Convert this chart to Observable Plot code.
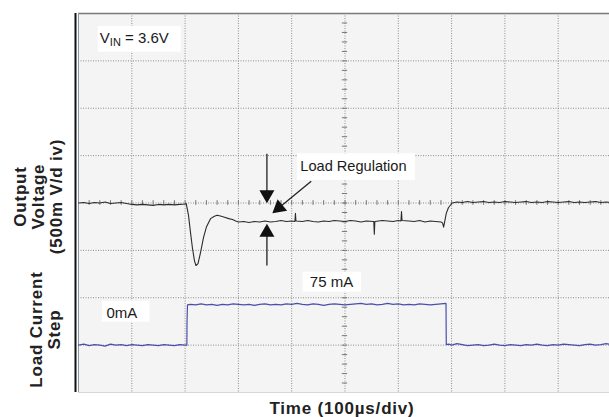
<!DOCTYPE html>
<html><head><meta charset="utf-8">
<script src="https://cdn.jsdelivr.net/npm/d3@7"></script>
<script src="https://cdn.jsdelivr.net/npm/@observablehq/plot@0.6"></script>
<style>
html,body{margin:0;padding:0;background:#fff;}
#chart{width:609px;height:417px;overflow:hidden;}
</style></head><body><div id="chart"></div>
<script>
// Time in divisions (100 µs/div), levels in screen divisions
const voltTime = [0,0.1,0.2,0.3,0.4,0.5,0.6,0.7,0.8,0.9,1.0,1.1,1.2,1.3,1.4,1.5,1.6,1.7,1.8,1.9,2.0,2.02,
  2.064,2.101,2.139,2.176,2.204,2.242,2.289,2.345,2.402,2.477,2.55,2.602,2.68,2.739,2.82,2.889,2.95,3.0,
  3.1,3.2,3.3,3.4,3.5,3.6,3.7,3.8,3.9,4.0,4.06,4.07,4.08,4.2,4.3,4.4,4.5,4.6,4.7,4.8,4.9,5.0,5.1,5.2,5.3,5.4,
  5.54,5.55,5.56,5.7,5.8,5.9,6.0,6.05,6.06,6.07,6.2,6.3,6.4,6.5,6.6,6.7,6.8,6.83,6.85,6.87,6.90,6.94,7.01,
  7.1,7.2,7.3,7.4,7.5,7.6,7.7,7.8,7.9,8.0,8.1,8.2,8.3,8.4,8.5,8.6,8.7,8.8,8.9,9.0,9.1,9.2,9.3,9.4,9.5,9.6,9.7,9.8,9.9,10.0];
const voltDiv = [4.00,4.01,3.99,4.01,4.00,4.02,3.99,4.00,4.01,3.99,3.97,3.96,3.97,3.96,3.95,3.97,3.96,3.97,3.96,3.97,3.98,3.99,
  3.74,3.38,3.04,2.78,2.68,2.72,2.95,3.27,3.50,3.67,3.72,3.74,3.72,3.70,3.67,3.65,3.62,3.60,
  3.61,3.59,3.61,3.60,3.62,3.60,3.61,3.63,3.61,3.62,3.61,3.78,3.62,3.61,3.63,3.61,3.60,3.62,3.61,3.63,3.62,3.61,3.63,3.62,3.60,3.62,
  3.61,3.34,3.61,3.63,3.62,3.61,3.63,3.62,3.82,3.63,3.62,3.61,3.63,3.60,3.62,3.61,3.60,3.58,3.49,3.60,3.78,3.90,4.00,
  4.02,4.01,4.03,4.01,4.02,4.03,4.01,4.02,4.01,4.03,4.02,4.01,4.02,4.03,4.01,4.02,4.01,4.03,4.02,4.01,4.02,4.03,4.01,4.02,4.01,4.02,4.03,4.01,4.02,4.01];

const currTime = [0,0.1,0.2,0.3,0.4,0.5,0.6,0.7,0.8,0.9,1.0,1.1,1.2,1.3,1.4,1.5,1.6,1.7,1.8,1.9,2.0,2.033,2.036,2.045,
  2.1,2.2,2.3,2.4,2.5,2.6,2.7,2.8,2.9,3.0,3.1,3.2,3.3,3.4,3.5,3.6,3.7,3.8,3.9,4.0,4.1,4.2,4.3,4.4,4.5,4.6,4.7,4.8,4.9,
  5.0,5.1,5.2,5.3,5.4,5.5,5.6,5.7,5.8,5.9,6.0,6.1,6.2,6.3,6.4,6.5,6.6,6.7,6.8,6.895,6.90,6.95,
  7.0,7.1,7.2,7.3,7.4,7.5,7.6,7.7,7.8,7.9,8.0,8.1,8.2,8.3,8.4,8.5,8.6,8.7,8.8,8.9,9.0,9.1,9.2,9.3,9.4,9.5,9.6,9.7,9.8,9.9,10.0];
const currDiv = [1.00,1.02,0.99,1.01,1.00,0.98,1.02,1.00,1.01,0.99,1.01,1.00,0.99,1.01,1.00,0.99,1.01,1.00,0.99,1.01,1.00,1.00,1.50,1.85,
  1.86,1.85,1.87,1.85,1.86,1.84,1.86,1.85,1.87,1.86,1.85,1.86,1.84,1.86,1.87,1.85,1.86,1.85,1.87,1.86,1.88,1.86,1.85,1.87,1.86,1.84,1.86,1.87,1.86,
  1.85,1.86,1.87,1.88,1.86,1.87,1.85,1.86,1.88,1.86,1.87,1.85,1.86,1.85,1.87,1.86,1.85,1.86,1.87,1.88,1.01,1.02,
  1.00,1.03,1.01,0.99,1.00,1.01,0.99,1.00,1.02,1.00,0.99,1.01,1.00,0.99,1.01,1.00,1.02,1.00,0.99,1.01,1.00,1.02,1.01,1.00,0.99,1.01,1.02,1.00,1.01,1.03,1.01];

// Screen grid divisions
const xGrid = [1,2,3,4,5,6,7,8,9];
const yGrid = [1,2,3,4,5,6,7];

// Annotations (data units: divisions)
const noteText = ["VIN = 3.6V", "Load Regulation", "75 mA", "0mA"];
const noteX = [0.40, 4.161, 4.34, 0.525];
const noteY = [7.474, 4.77, 2.324, 1.678];
const boxX1 = [0.37, 4.109, 4.216, 0.45];
const boxX2 = [1.927, 6.319, 5.31, 1.341];
const boxY1 = [7.183, 4.475, 2.117, 1.484];
const boxY2 = [7.726, 5.038, 2.539, 1.927];

const arrowX1 = [4.366, 3.535, 3.535];
const arrowY1 = [4.46, 5.038, 2.681];
const arrowX2 = [3.762, 3.535, 3.535];
const arrowY2 = [3.901, 4.179, 3.378];
const arrowRotate = [230.6, 180, 0];

const xLabel = "Time (100µs/div)";
const yLabelVoltage = "Output\nVoltage\n(500m V/d iv)";
const yLabelCurrent = "Load Current\nStep";

const minorX = d3.range(1, 50).map(i => i * 0.2);
const minorY = d3.range(1, 40).map(i => i * 0.2);

const font = "'Liberation Sans', Arial, Helvetica, sans-serif";

const chart = Plot.plot({
  width: 609, height: 417,
  marginLeft: 78, marginRight: -2, marginTop: 13, marginBottom: 25,
  style: {fontFamily: font, background: "white", overflow: "visible"},
  x: {domain: [0, 10], axis: null},
  y: {domain: [0, 8], axis: null},
  marks: [
    Plot.frame({fill: "#f3f4f3", stroke: "none"}),
    Plot.ruleX(xGrid, {stroke: "#8c8c8c", strokeWidth: 1, strokeDasharray: "1,1.5"}),
    Plot.ruleY(yGrid, {stroke: "#8c8c8c", strokeWidth: 1, strokeDasharray: "1,1.5"}),
    Plot.ruleX(minorX, {y1: 3.95, y2: 4.05, stroke: "#777", strokeWidth: 1}),
    Plot.ruleY(minorY, {x1: 4.95, x2: 5.05, stroke: "#777", strokeWidth: 1}),
    Plot.ruleY([8], {stroke: "#7a7a7a", strokeWidth: 1.6}),
    Plot.ruleY([0], {stroke: "#d6d8d6", strokeWidth: 1}),
    Plot.ruleX([0], {stroke: "#8d96a3", strokeWidth: 1}),
    Plot.ruleX([0], {dx: -3, stroke: "#111", strokeWidth: 2}),
    Plot.rect(noteText, {x1: boxX1, x2: boxX2, y1: boxY1, y2: boxY2, fill: "white", stroke: "none"}),
    Plot.line(voltTime, {x: voltTime, y: voltDiv, stroke: "#2b2b2b", strokeWidth: 1.1}),
    Plot.line(currTime, {x: currTime, y: currDiv, stroke: "#4a4fae", strokeWidth: 1.2}),
    Plot.text(noteText, {x: noteX, y: noteY, text: d => d, textAnchor: "start", lineAnchor: "middle",
      fontSize: (d) => d === "Load Regulation" ? 14.6 : 15, fill: "#1a1a1a"}),
    Plot.link(arrowX1, {x1: arrowX1, y1: arrowY1, x2: arrowX2, y2: arrowY2, stroke: "#222", strokeWidth: 1.3}),
    Plot.dot(arrowX2, {x: arrowX2, y: arrowY2, rotate: arrowRotate, symbol: "triangle2", r: 7.16, fill: "#111", stroke: "none"}),
    Plot.text([xLabel], {frameAnchor: "bottom", textAnchor: "middle", dx: -3, dy: 15.9, lineAnchor: "middle", fontSize: 17, fontWeight: "bold", fill: "#222"}),
    Plot.text([yLabelVoltage], {frameAnchor: "left", textAnchor: "middle", dx: -40.25, dy: -6.5, rotate: -90, lineAnchor: "middle", lineHeight: 1.06, fontSize: 17, fontWeight: "bold", fill: "#222"}),
    Plot.text([yLabelCurrent], {frameAnchor: "left", textAnchor: "middle", dx: -33.25, dy: 126.5, rotate: -90, lineAnchor: "middle", lineHeight: 1.06, fontSize: 17, fontWeight: "bold", fill: "#222"})
  ]
});

document.getElementById("chart").appendChild(chart);

// letter spacing for bold axis labels
chart.querySelectorAll('g[font-weight="bold"]').forEach(g => g.style.letterSpacing = "0.8px");

// subscript for V_IN
const ns = "http://www.w3.org/2000/svg";
chart.querySelectorAll("text").forEach(t => {
  if (t.textContent === "VIN = 3.6V") {
    t.textContent = "V";
    const s1 = document.createElementNS(ns, "tspan");
    s1.setAttribute("font-size", "11");
    s1.setAttribute("dy", "3");
    s1.textContent = "IN";
    const s2 = document.createElementNS(ns, "tspan");
    s2.setAttribute("dy", "-3");
    s2.textContent = " = 3.6V";
    t.appendChild(s1); t.appendChild(s2);
  }
});
</script></body></html>
